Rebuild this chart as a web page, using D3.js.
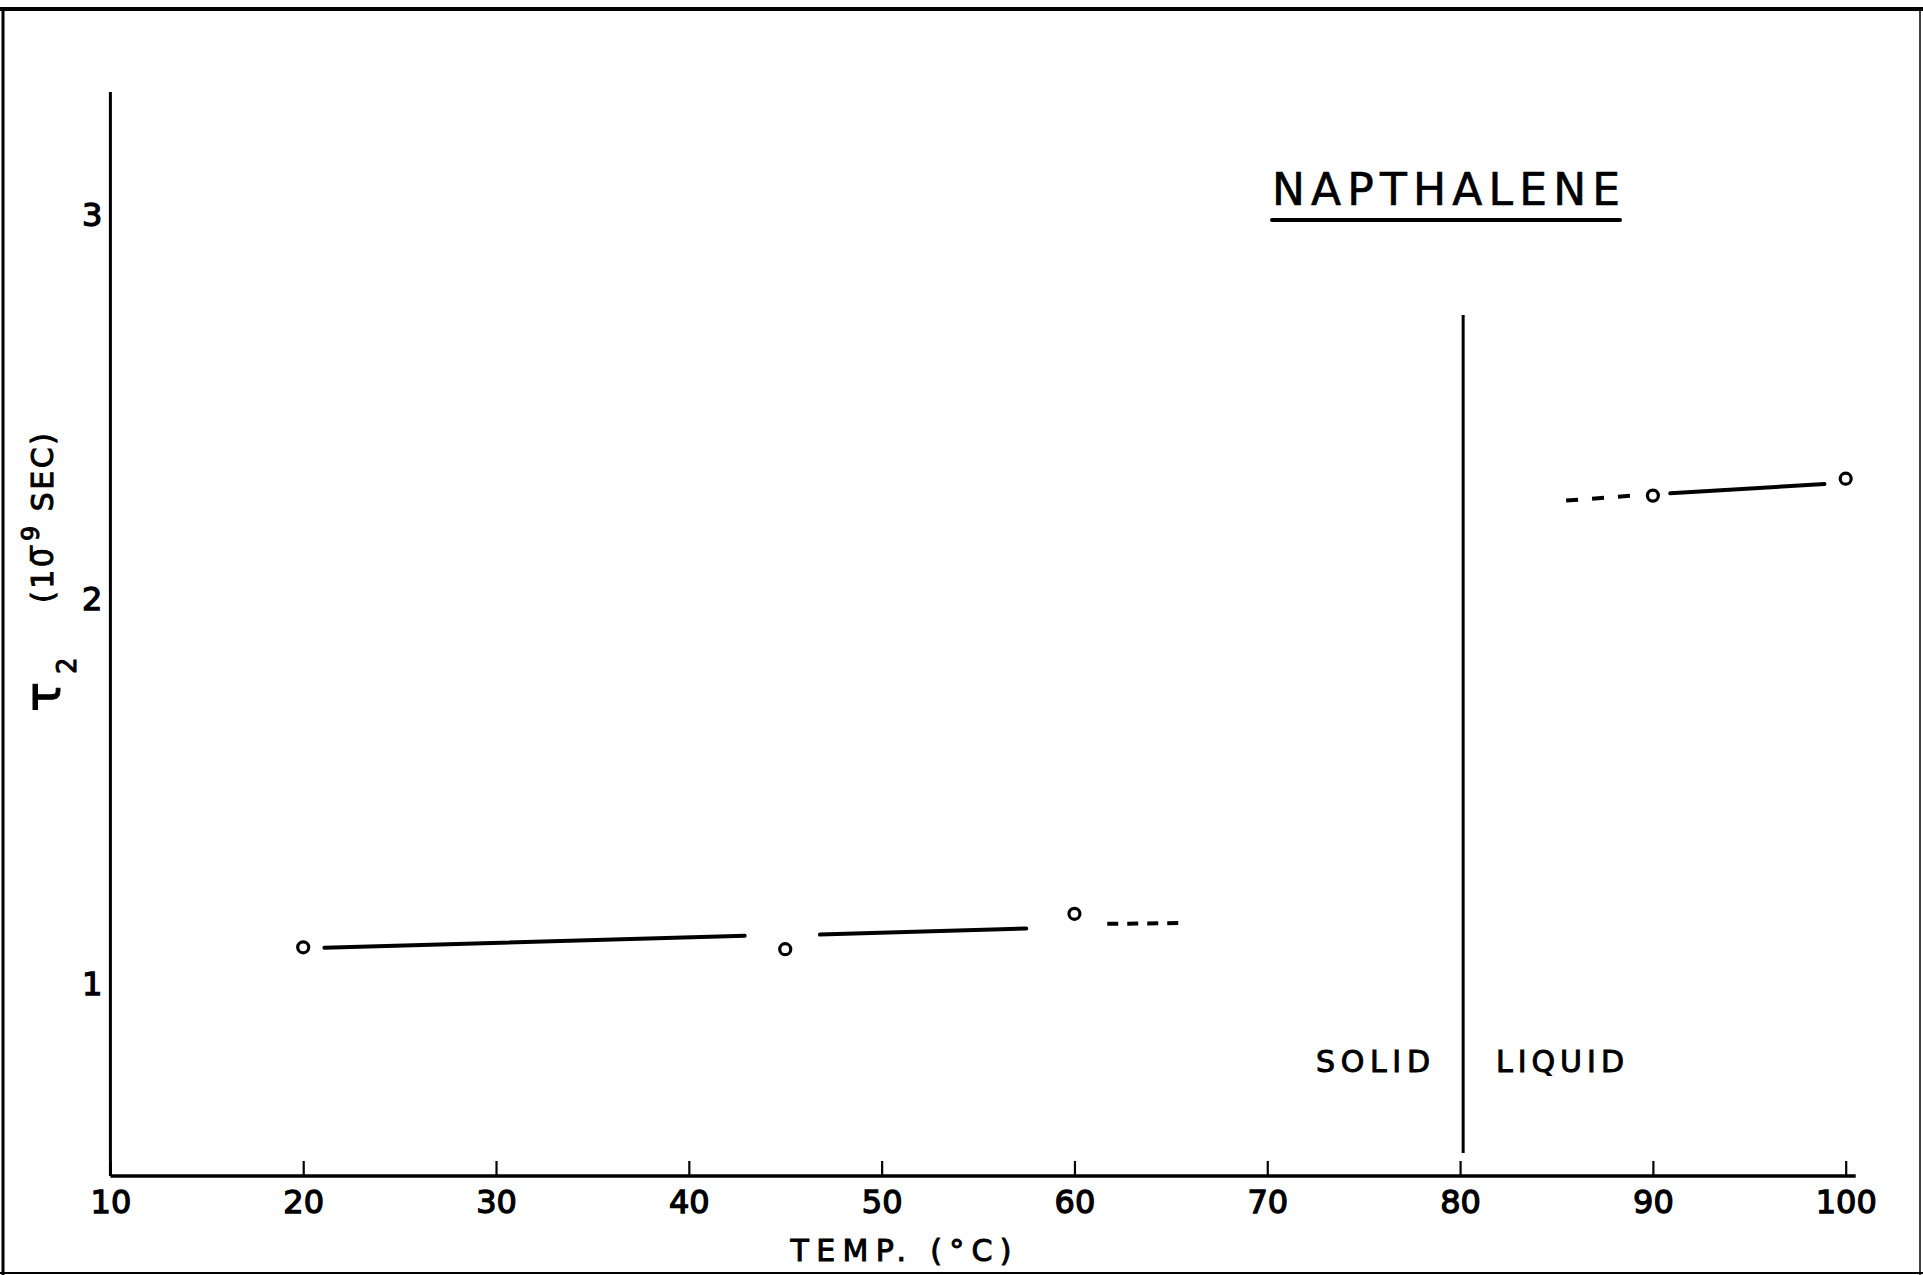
<!DOCTYPE html>
<html>
<head>
<meta charset="utf-8">
<script src="https://cdn.jsdelivr.net/npm/d3@7"></script>
<style>
  body { margin: 0; background: #fff; }
  svg text { font-family: "DejaVu Sans", sans-serif; fill: #000; }
</style>
</head>
<body>
<div id="chart"></div>
<script>
//data
var xTicks = [10, 20, 30, 40, 50, 60, 70, 80, 90, 100],
    yTicks = [1, 2, 3];

var tempPoints = [20, 45, 60, 90, 100],
    tauPoints = [1.095, 1.09, 1.182, 2.27, 2.314];

// hand drawn fit lines [t0, tau0, t1, tau1]
var solidFits = [
    [21.1, 1.094, 42.9, 1.125],
    [46.8, 1.128, 57.5, 1.144],
    [90.9, 2.276, 98.9, 2.3]
];
var dashedFits = [
    [61.7, 1.156, 65.6, 1.158],
    [85.5, 2.257, 88.9, 2.27]
];

var meltTemp = 80.16,
    meltRange = [0.56, 2.74];

var titleText = 'NAPTHALENE',
    xLabel = 'TEMP. (°C)';

//sizes
var outerW = 1923,
    outerH = 1275;

//scales
var xScale = d3.scaleLinear().domain([10, 100]).range([110.4, 1845.7]),
    yScale = d3.scaleLinear().domain([0.5, 3.32]).range([1176, 92]);

var svg = d3.select('#chart').append('svg')
    .attr('width', outerW)
    .attr('height', outerH);

svg.append('rect')
    .attr('width', outerW)
    .attr('height', outerH)
    .attr('fill', '#fff');

// frame of the old drawing
svg.append('line').attr('x1', 0).attr('x2', outerW).attr('y1', 9).attr('y2', 9)
    .attr('stroke', '#000').attr('stroke-width', 4);
svg.append('line').attr('x1', 3).attr('x2', 3).attr('y1', 9).attr('y2', outerH)
    .attr('stroke', '#000').attr('stroke-width', 3);
svg.append('line').attr('x1', 0).attr('x2', outerW).attr('y1', 1273).attr('y2', 1273)
    .attr('stroke', '#000').attr('stroke-width', 2);
svg.append('line').attr('x1', 1920).attr('x2', 1920).attr('y1', 9).attr('y2', outerH)
    .attr('stroke', '#000').attr('stroke-width', 1.5);

var g = svg.append('g');

//x axis
var xAxis = d3.axisBottom(xScale)
    .tickValues(xTicks)
    .tickSizeInner(-15)
    .tickSizeOuter(0)
    .tickPadding(14);

var xAxisG = g.append('g')
    .attr('transform', 'translate(0,' + yScale(0.5) + ')')
    .call(xAxis);

xAxisG.select('.domain').remove();
xAxisG.selectAll('.tick line')
    .attr('stroke', '#000')
    .attr('stroke-width', 2.2);
xAxisG.selectAll('.tick text')
    .attr('font-size', 32)
    .attr('font-family', '"DejaVu Sans", sans-serif')
    .attr('stroke', '#000')
    .attr('stroke-width', 1.3);

g.append('line')
    .attr('x1', xScale(10))
    .attr('x2', xScale(100) + 10)
    .attr('y1', yScale(0.5))
    .attr('y2', yScale(0.5))
    .attr('stroke', '#000')
    .attr('stroke-width', 3.5);

//y axis
var yAxis = d3.axisLeft(yScale)
    .tickValues(yTicks)
    .tickFormat(d3.format('d'))
    .tickSize(0)
    .tickPadding(8);

var yAxisG = g.append('g')
    .attr('transform', 'translate(' + xScale(10) + ',0)')
    .call(yAxis);

yAxisG.select('.domain').remove();
yAxisG.selectAll('.tick text')
    .attr('font-size', 32)
    .attr('font-family', '"DejaVu Sans", sans-serif')
    .attr('stroke', '#000')
    .attr('stroke-width', 1.3);

g.append('line')
    .attr('x1', xScale(10))
    .attr('x2', xScale(10))
    .attr('y1', yScale(3.32))
    .attr('y2', yScale(0.5))
    .attr('stroke', '#000')
    .attr('stroke-width', 3);

//axis titles
svg.append('text')
    .attr('x', 901)
    .attr('y', 1261)
    .attr('text-anchor', 'middle')
    .attr('font-size', 30)
    .attr('textLength', 221)
    .attr('lengthAdjust', 'spacing')
    .attr('stroke', '#000')
    .attr('stroke-width', 1)
    .text(xLabel);

var tauLabel = svg.append('text')
    .attr('transform', 'translate(60,712) rotate(-90)')
    .attr('font-size', 50)
    .attr('stroke', '#000')
    .attr('stroke-width', 1)
    .text('τ');
tauLabel.append('tspan')
    .attr('font-size', 26)
    .attr('dx', 8)
    .attr('dy', 16)
    .attr('stroke-width', 1)
    .text('2');

var unitLabel = svg.append('text')
    .attr('transform', 'translate(53,603) rotate(-90)')
    .attr('font-size', 30)
    .attr('letter-spacing', 2.5)
    .attr('stroke', '#000')
    .attr('stroke-width', 1)
    .text('(10');
unitLabel.append('tspan')
    .attr('font-size', 24)
    .attr('dx', -18)
    .attr('dy', -14)
    .text('−9');
unitLabel.append('tspan')
    .attr('dy', 14)
    .text(' SEC)');

//title
svg.append('text')
    .attr('x', 1272)
    .attr('y', 205)
    .attr('font-size', 44)
    .attr('textLength', 348)
    .attr('lengthAdjust', 'spacing')
    .attr('stroke', '#000')
    .attr('stroke-width', 0.6)
    .text(titleText);

svg.append('line')
    .attr('x1', 1272)
    .attr('x2', 1620)
    .attr('y1', 220)
    .attr('y2', 220)
    .attr('stroke', '#000')
    .attr('stroke-width', 4)
    .attr('stroke-linecap', 'round');

//solid / liquid boundary
g.append('line')
    .attr('x1', xScale(meltTemp))
    .attr('x2', xScale(meltTemp))
    .attr('y1', yScale(meltRange[1]))
    .attr('y2', yScale(meltRange[0]))
    .attr('stroke', '#000')
    .attr('stroke-width', 3);

svg.append('text')
    .attr('x', 1316)
    .attr('y', 1072)
    .attr('font-size', 30)
    .attr('textLength', 114)
    .attr('lengthAdjust', 'spacing')
    .attr('stroke', '#000')
    .attr('stroke-width', 1)
    .text('SOLID');

svg.append('text')
    .attr('x', 1496)
    .attr('y', 1072)
    .attr('font-size', 30)
    .attr('textLength', 128)
    .attr('lengthAdjust', 'spacing')
    .attr('stroke', '#000')
    .attr('stroke-width', 1)
    .text('LIQUID');

//fit lines
g.selectAll('.solid-fit')
    .data(solidFits)
    .enter()
    .append('line')
    .attr('class', 'solid-fit')
    .attr('x1', function(d) { return xScale(d[0]); })
    .attr('y1', function(d) { return yScale(d[1]); })
    .attr('x2', function(d) { return xScale(d[2]); })
    .attr('y2', function(d) { return yScale(d[3]); })
    .attr('stroke', '#000')
    .attr('stroke-width', 4)
    .attr('stroke-linecap', 'round');

g.selectAll('.dashed-fit')
    .data(dashedFits)
    .enter()
    .append('line')
    .attr('class', 'dashed-fit')
    .attr('x1', function(d) { return xScale(d[0]); })
    .attr('y1', function(d) { return yScale(d[1]); })
    .attr('x2', function(d) { return xScale(d[2]); })
    .attr('y2', function(d) { return yScale(d[3]); })
    .attr('stroke', '#000')
    .attr('stroke-width', 4)
    .attr('stroke-dasharray', function(d, i) { return i == 0 ? '11,9' : '12,14'; });

//points
g.selectAll('.tau-dot')
    .data(tempPoints)
    .enter()
    .append('circle')
    .attr('class', 'tau-dot')
    .attr('cx', function(d) { return xScale(d); })
    .attr('cy', function(d, i) { return yScale(tauPoints[i]); })
    .attr('r', 5.5)
    .attr('fill', '#fff')
    .attr('stroke', '#000')
    .attr('stroke-width', 3.2);
</script>
</body>
</html>
